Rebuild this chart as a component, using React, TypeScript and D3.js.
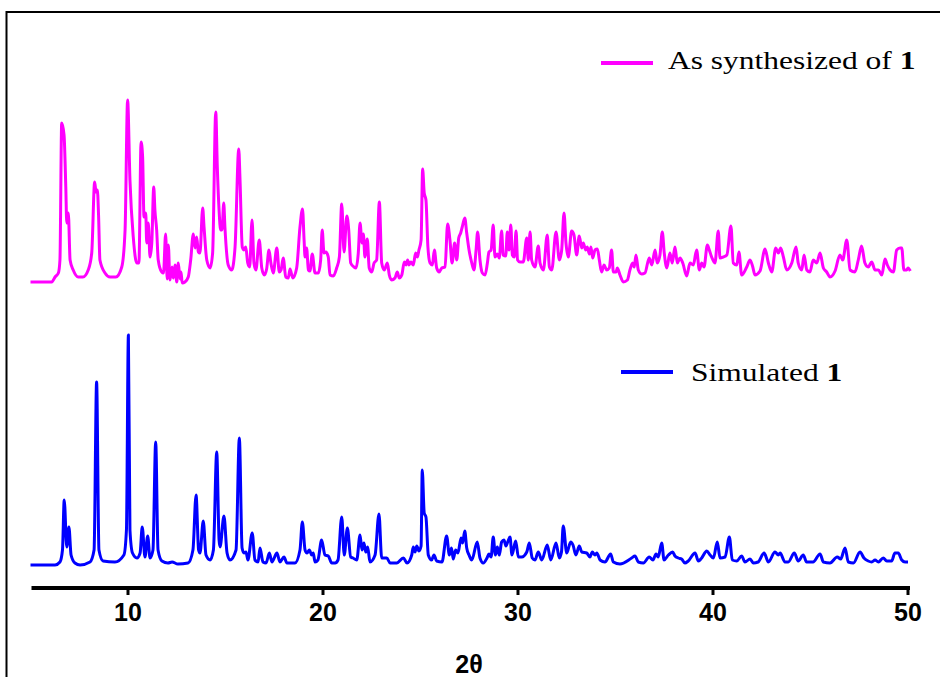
import React from "react";
import * as d3 from "d3";

// ---- Data (2θ in degrees, intensity in arbitrary units above each trace's baseline) ----
const simTheta = [5.0,6.26,6.51,6.64,6.73,6.86,6.97,7.08,7.28,7.54,8.05,8.26,8.39,8.51,8.72,9.33,9.79,9.92,10.02,10.1,10.23,10.46,10.62,10.73,10.87,11.01,11.13,11.28,11.42,11.54,11.74,12.05,12.26,12.56,13.08,13.33,13.49,13.62,13.69,13.86,14.0,14.21,14.38,14.55,14.67,14.72,14.92,15.08,15.23,15.54,15.71,15.85,15.95,16.05,16.15,16.37,16.51,16.67,16.77,16.92,17.08,17.25,17.38,17.64,17.79,18.0,18.15,18.56,18.82,18.94,19.08,19.18,19.3,19.42,19.5,19.59,19.74,19.93,20.1,20.27,20.45,20.62,20.77,20.96,21.09,21.25,21.42,21.54,21.73,21.9,22.0,22.1,22.19,22.29,22.41,22.67,22.87,23.01,23.27,23.44,23.78,24.12,24.31,24.55,24.63,24.72,24.81,24.92,25.03,25.09,25.19,25.28,25.4,25.57,25.69,25.83,26.1,26.34,26.48,26.59,26.68,26.8,26.92,27.08,27.16,27.27,27.37,27.49,27.63,27.91,28.05,28.22,28.41,28.51,28.62,28.73,28.84,28.94,29.04,29.16,29.28,29.38,29.49,29.59,29.69,29.88,30.02,30.19,30.45,30.58,30.73,30.87,31.04,31.22,31.5,31.68,31.95,32.12,32.23,32.32,32.5,32.7,32.82,32.97,33.14,33.27,33.52,33.69,33.81,33.95,34.04,34.21,34.46,34.75,34.89,35.23,35.83,36.0,36.17,36.43,36.73,36.92,37.08,37.19,37.37,37.49,37.71,37.93,38.05,38.22,38.39,38.56,38.73,39.08,39.25,39.42,39.68,39.85,40.02,40.22,40.36,40.62,40.84,40.99,41.22,41.47,41.64,41.9,42.07,42.31,42.62,42.84,43.18,43.35,43.44,43.69,43.86,44.17,44.37,44.63,44.8,45.13,45.49,45.66,46.0,46.37,46.55,46.77,46.94,47.2,47.54,47.74,47.96,48.14,48.31,48.48,48.73,48.91,49.16,49.33,49.5,49.68,49.85,50.0];
const simIntensity = [0,0,3,15,65,18,38,10,2,0,3,15,183,15,4,3,10,35,230,35,12,7,12,38,8,29,7,15,123,15,4,2,3,1,2,15,70,15,12,44,10,5,15,113,25,18,49,12,5,15,127,17,12,13,5,32,5,3,17,3,2,12,3,12,3,8,2,2,15,43,15,12,15,10,12,3,5,25,10,9,2,2,5,48,10,37,8,7,5,30,15,22,13,18,3,10,51,7,7,2,2,7,2,10,18,13,19,14,19,95,52,48,10,5,10,4,3,29,10,17,6,15,12,27,22,34,17,10,5,23,7,2,7,11,8,28,10,18,10,23,25,19,24,28,10,24,8,8,13,22,7,5,13,5,20,5,22,7,13,39,12,23,20,10,19,13,12,8,13,10,12,5,3,11,3,1,7,9,3,2,8,5,11,8,22,5,10,13,9,7,6,2,4,12,4,7,14,10,7,23,7,8,28,5,4,9,3,6,2,3,12,3,13,10,12,3,3,12,4,10,3,3,11,3,2,8,6,17,3,2,13,7,4,3,5,3,7,4,4,12,12,5,3,3];

const expTheta = [5.0,6.09,6.26,6.43,6.51,6.6,6.72,6.81,6.86,6.94,7.03,7.19,7.45,7.69,7.96,8.14,8.29,8.36,8.43,8.49,8.56,8.82,9.08,9.38,9.68,9.85,9.98,10.1,10.27,10.45,10.56,10.67,10.75,10.82,10.91,10.96,11.04,11.13,11.22,11.32,11.38,11.47,11.55,11.73,11.82,11.93,12.01,12.07,12.15,12.26,12.32,12.41,12.5,12.58,12.67,12.72,12.78,12.92,13.09,13.22,13.35,13.44,13.52,13.61,13.69,13.83,13.9,14.04,14.21,14.34,14.5,14.58,14.67,14.75,14.82,14.91,14.97,15.14,15.32,15.49,15.68,15.74,15.86,15.95,16.04,16.14,16.24,16.36,16.46,16.56,16.73,16.86,16.99,17.11,17.23,17.32,17.45,17.63,17.76,17.85,17.96,18.09,18.22,18.31,18.45,18.65,18.82,18.95,19.03,19.08,19.16,19.25,19.33,19.45,19.59,19.76,19.88,19.96,20.05,20.15,20.27,20.36,20.53,20.7,20.84,20.96,21.08,21.22,21.32,21.42,21.59,21.69,21.81,21.9,22.0,22.07,22.15,22.27,22.37,22.5,22.62,22.75,22.89,23.01,23.14,23.3,23.4,23.52,23.69,23.81,23.91,24.04,24.17,24.26,24.34,24.41,24.51,24.63,24.75,24.84,24.92,25.03,25.11,25.19,25.28,25.38,25.49,25.61,25.71,25.83,25.96,26.09,26.26,26.39,26.51,26.62,26.75,26.86,26.96,27.06,27.14,27.27,27.37,27.49,27.63,27.74,27.85,27.93,28.05,28.17,28.31,28.43,28.51,28.62,28.73,28.82,28.94,29.04,29.16,29.24,29.37,29.45,29.54,29.63,29.71,29.81,29.9,29.98,30.1,30.27,30.45,30.53,30.62,30.7,30.87,31.04,31.13,31.3,31.5,31.61,31.73,31.95,32.12,32.24,32.36,32.46,32.58,32.75,32.87,33.01,33.14,33.27,33.35,33.47,33.55,33.66,33.74,33.83,33.95,34.07,34.17,34.29,34.41,34.55,34.68,34.8,34.89,35.03,35.09,35.23,35.4,35.61,35.74,35.88,35.96,36.05,36.17,36.34,36.51,36.73,36.86,37.03,37.14,37.28,37.4,37.5,37.63,37.79,37.91,38.05,38.17,38.31,38.45,38.65,38.82,38.99,39.16,39.3,39.42,39.54,39.71,39.81,39.93,40.1,40.27,40.36,40.53,40.71,40.92,41.04,41.22,41.33,41.47,41.73,41.9,42.04,42.15,42.41,42.67,42.84,43.01,43.22,43.35,43.47,43.61,43.78,44.04,44.26,44.37,44.55,44.67,44.81,44.97,45.14,45.32,45.49,45.66,45.83,46.0,46.26,46.51,46.65,46.86,47.03,47.28,47.45,47.62,47.79,47.96,48.14,48.31,48.48,48.66,48.82,48.94,49.08,49.25,49.42,49.59,49.68,49.79,49.93,50.0,50.12];
const expIntensity = [0,0,5,9,22,159,147,95,59,69,22,12,5,5,12,29,100,90,92,67,22,9,5,5,15,52,182,102,45,19,19,140,125,65,69,39,59,25,39,95,72,52,22,10,9,48,3,37,2,15,4,17,0,19,3,10,-1,0,5,23,48,34,45,30,29,74,55,22,14,29,170,115,72,52,52,79,55,17,12,35,133,105,35,32,35,19,15,62,19,12,42,14,7,13,32,20,9,34,10,12,24,5,4,13,4,14,55,73,42,25,34,12,11,28,9,9,22,52,29,30,25,7,6,14,25,78,30,66,52,19,15,14,29,59,39,48,25,43,14,10,19,22,80,19,12,19,7,2,4,10,4,7,20,17,22,17,20,17,29,25,32,42,113,89,82,35,19,17,32,14,10,14,15,58,42,19,39,22,44,49,55,64,49,32,19,12,32,50,22,9,7,19,30,32,57,25,28,24,51,27,26,50,32,57,27,25,51,22,20,20,44,22,50,22,15,36,19,12,47,15,12,50,22,32,69,39,25,51,47,27,46,34,39,32,35,28,35,24,32,33,22,10,17,12,14,32,10,10,14,7,0,2,12,19,15,27,12,8,9,24,17,32,19,27,50,29,14,29,19,35,19,24,19,6,19,17,32,12,19,15,37,32,25,19,51,24,25,27,56,19,17,30,7,15,22,15,7,11,33,19,10,34,29,34,25,12,19,35,19,12,27,12,10,22,19,29,14,10,5,11,27,22,42,12,10,22,36,19,15,20,12,12,7,23,17,12,10,32,34,34,12,12,14,11];

const seriesNames = ["As synthesized of ", "Simulated "];
const seriesBold = ["1", "1"];
const seriesColors = ["#ff00ff", "#0000ff"];
const seriesOffsets = [305, 22]; // vertical stacking offsets (a.u.)

const xTicks = [10, 20, 30, 40, 50];
const xDomain = [5, 50];
const yDomain = [0, 575];
const xTitle = "2θ";

export default function App() {
  const W = 940, H = 677;
  const x = d3.scaleLinear().domain(xDomain).range([30.5, 908]);
  const y = d3.scaleLinear().domain(yDomain).range([587, 12]);

  const series = [
    { theta: expTheta, inten: expIntensity },
    { theta: simTheta, inten: simIntensity },
  ];

  const lineGen = (offset: number) =>
    d3
      .line<[number, number]>()
      .x((d) => x(d[0]))
      .y((d) => y(d[1] + offset))
      .curve(d3.curveMonotoneX);

  const legendPos = [
    { lx1: 601, lx2: 653, ly: 63, tx: 668, ty: 69 },
    { lx1: 621, lx2: 673, ly: 372, tx: 691, ty: 381 },
  ];
  const sx = 1.26;

  return (
    <svg
      width={W}
      height={H}
      style={{ position: "absolute", left: 0, top: 0, background: "#fff" }}
    >
      <rect x={0} y={0} width={W} height={H} fill="#fff" />
      {/* frame */}
      <rect x={6.5} y={12} width={W + 10} height={H + 10} fill="none" stroke="#000" strokeWidth={2} />

      {series.map((s, i) => {
        const pts: [number, number][] = s.theta.map((t, k) => [t, s.inten[k]]);
        return (
          <path
            key={i}
            d={lineGen(seriesOffsets[i])(pts) || ""}
            fill="none"
            stroke={seriesColors[i]}
            strokeWidth={3}
            strokeLinejoin="round"
          />
        );
      })}

      {/* x axis */}
      <line x1={x(xDomain[0]) + 1} x2={x(xDomain[1]) + 2} y1={588} y2={588} stroke="#000" strokeWidth={4} />
      {xTicks.map((t) => (
        <g key={t}>
          <line x1={x(t)} x2={x(t)} y1={588} y2={595} stroke="#000" strokeWidth={3} />
          <text
            x={x(t)}
            y={621}
            textAnchor="middle"
            fontFamily="'Liberation Sans', Arial, sans-serif"
            fontWeight="bold"
            fontSize={25}
            fill="#000"
          >
            {t}
          </text>
        </g>
      ))}
      <text
        x={469}
        y={673}
        textAnchor="middle"
        fontFamily="'Liberation Sans', Arial, sans-serif"
        fontWeight="bold"
        fontSize={25}
        fill="#000"
      >
        {xTitle}
      </text>

      {/* legends */}
      {legendPos.map((p, i) => (
        <g key={i}>
          <line x1={p.lx1} x2={p.lx2} y1={p.ly} y2={p.ly} stroke={seriesColors[i]} strokeWidth={4} />
          <text
            transform={`translate(${p.tx},${p.ty}) scale(${sx},1)`}
            fontFamily="'Liberation Serif', 'Times New Roman', serif"
            fontSize={25}
            fill="#000"
          >
            {seriesNames[i]}
            <tspan fontWeight="bold">{seriesBold[i]}</tspan>
          </text>
        </g>
      ))}
    </svg>
  );
}
